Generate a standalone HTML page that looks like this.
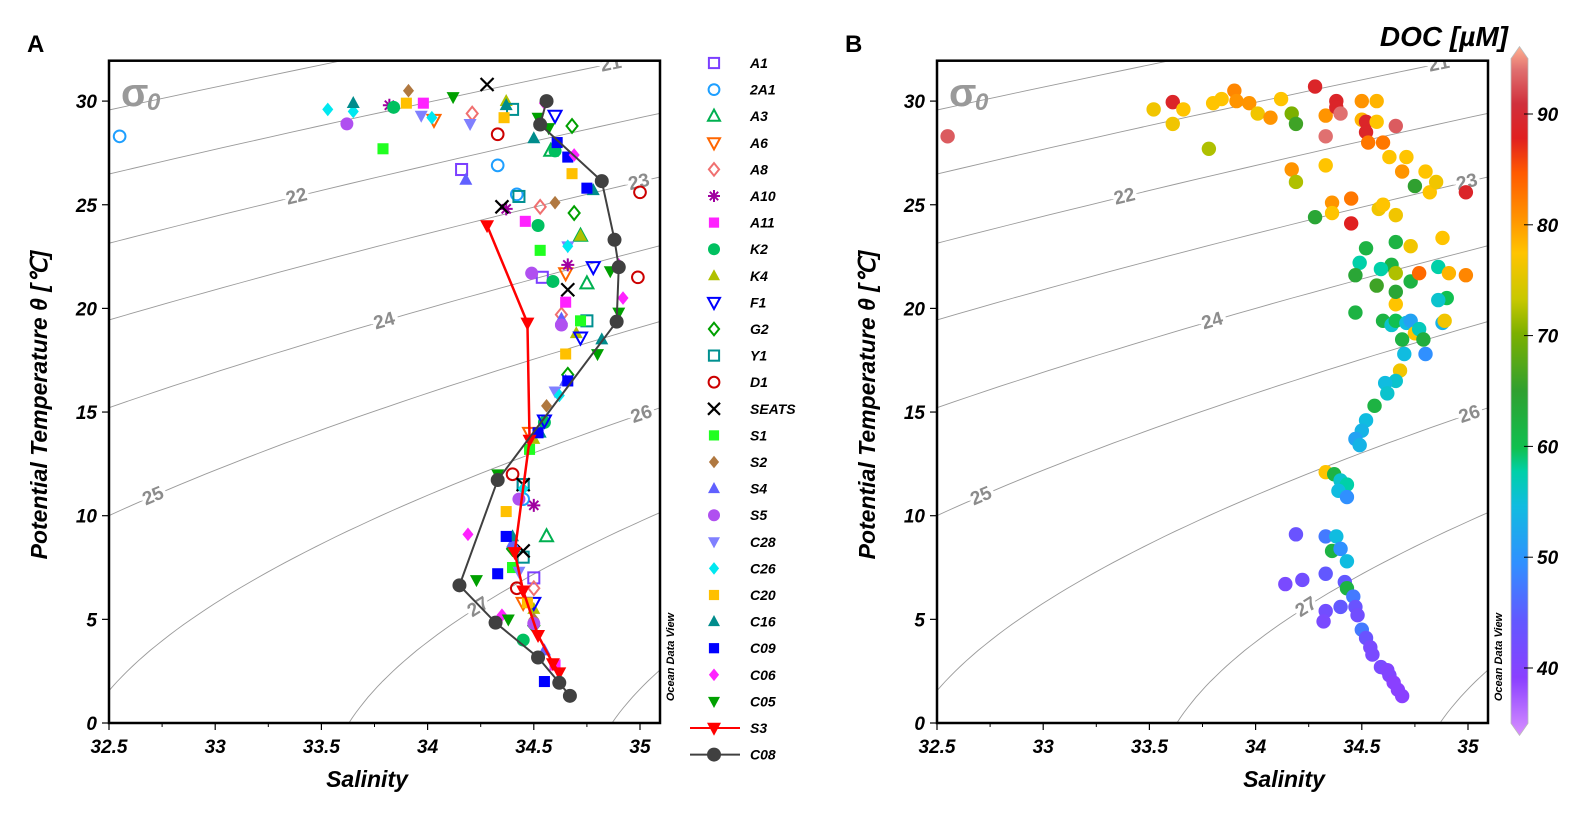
<!DOCTYPE html>
<html><head><meta charset="utf-8"><title>T-S diagrams</title>
<style>
html,body{margin:0;padding:0;background:#fff;}
svg{display:block;font-family:"Liberation Sans",Arial,sans-serif;}
</style></head>
<body>
<svg id="fig" width="1586" height="826" viewBox="0 0 1586 826" xmlns="http://www.w3.org/2000/svg"></svg>
<script>
// ---------------- DATA ----------------
const legendNames = ["A1","2A1","A3","A6","A8","A10","A11","K2","K4","F1","G2","Y1","D1","SEATS","S1","S2","S4","S5","C28","C26","C20","C16","C09","C06","C05","S3","C08"];
const legendShapes = ["sqO","circO","triO","itriO","diaO","ast","sq","circ","tri","itriO","diaO","sqO","circO","x","sq","dia","tri","circ","itri","dia","sq","tri","sq","dia","itri","itri","circ"];
const legendColors = ["#7b3fff","#1e9fff","#00b050","#ff6600","#f07070","#a000a0","#ff22ff","#00c060","#b0c000","#0000ff","#00a000","#009090","#cc0000","#000000","#20ff20","#b07840","#6060ff","#b050f0","#8080ff","#00e8f0","#ffc000","#008c8c","#0000ff","#ff22ff","#00a000","#ff0000","#404040"];

const data_A1 = [[34.16,26.7],[34.54,21.5],[34.45,11.5],[34.5,7.0]];
const data_2A1 = [[32.55,28.3],[34.33,26.9],[34.42,25.5],[34.45,10.8]];
const data_A3 = [[34.58,27.6],[34.75,21.2],[34.72,23.5],[34.56,9.0]];
const data_A6 = [[34.03,29.1],[34.65,21.7],[34.48,14.0],[34.45,5.8]];
const data_A8 = [[34.21,29.4],[34.53,24.9],[34.63,19.7],[34.5,6.5]];
const data_A10 = [[33.82,29.8],[34.37,24.8],[34.66,22.1],[34.5,10.5]];
const data_A11 = [[33.98,29.9],[34.46,24.2],[34.65,20.3],[34.4,7.5],[34.6,2.8]];
const data_K2 = [[33.84,29.7],[34.52,24.0],[34.59,21.3],[34.6,27.6],[34.55,14.5],[34.45,4.0]];
const data_K4 = [[34.37,30.0],[34.72,23.5],[34.7,18.8],[34.5,13.7],[34.5,5.5]];
const data_F1 = [[34.6,29.3],[34.78,22.0],[34.72,18.6],[34.55,14.6],[34.5,5.8]];
const data_G2 = [[34.68,28.8],[34.69,24.6],[34.66,16.8],[34.4,8.4],[34.5,4.7]];
const data_Y1 = [[34.4,29.6],[34.43,25.4],[34.75,19.4],[34.45,11.5],[34.45,8.0]];
const data_D1 = [[34.33,28.4],[35.0,25.6],[34.99,21.5],[34.4,12.0],[34.42,6.5]];
const data_SEATS = [[34.28,30.8],[34.35,24.9],[34.66,20.9],[34.45,11.5],[34.45,8.3]];
const data_S1 = [[33.79,27.7],[34.53,22.8],[34.72,19.4],[34.48,13.2],[34.4,7.5]];
const data_S2 = [[33.91,30.5],[34.6,25.1],[34.56,15.3],[34.5,5.0]];
const data_S4 = [[34.18,26.2],[34.63,19.5],[34.65,16.5],[34.4,8.7],[34.55,3.5]];
const data_S5 = [[33.62,28.9],[34.49,21.7],[34.63,19.2],[34.43,10.8],[34.5,4.8]];
const data_C28 = [[33.97,29.3],[34.2,28.9],[34.66,23.0],[34.6,16.0],[34.43,7.3]];
const data_C26 = [[33.53,29.6],[33.65,29.5],[34.02,29.2],[34.66,23.0],[34.62,15.8],[34.45,11.3]];
const data_C20 = [[33.9,29.9],[34.36,29.2],[34.68,26.5],[34.65,17.8],[34.37,10.2],[34.47,5.8]];
const data_C16 = [[33.65,29.9],[34.37,29.8],[34.5,28.2],[34.78,25.7],[34.82,18.5],[34.53,14.0],[34.4,9.0]];
const data_C09 = [[34.61,28.0],[34.66,27.3],[34.75,25.8],[34.66,16.5],[34.52,14.0],[34.37,9.0],[34.33,7.2],[34.55,2.0]];
const data_C06 = [[34.55,29.9],[34.69,27.4],[34.92,20.5],[34.9,22.1],[34.19,9.1],[34.35,5.2]];
const data_C05 = [[34.12,30.2],[34.52,29.2],[34.57,28.7],[34.86,21.8],[34.8,17.8],[34.9,19.8],[34.23,6.9],[34.38,5.0],[34.33,12.0]];
const data_S3 = [[34.28,24.0],[34.47,19.3],[34.48,13.65],[34.41,8.23],[34.45,6.38],[34.52,4.23],[34.59,2.87],[34.62,2.43]];
const data_C08 = [[34.56,30.0],[34.53,28.87],[34.82,26.14],[34.88,23.31],[34.9,21.99],[34.89,19.36],[34.33,11.72],[34.15,6.64],[34.32,4.84],[34.52,3.16],[34.62,1.94],[34.67,1.31]];
const seriesData = [data_A1,data_2A1,data_A3,data_A6,data_A8,data_A10,data_A11,data_K2,data_K4,data_F1,data_G2,data_Y1,data_D1,data_SEATS,data_S1,data_S2,data_S4,data_S5,data_C28,data_C26,data_C20,data_C16,data_C09,data_C06,data_C05,data_S3,data_C08];

// Panel B: salinity, temperature, DOC
const docS = [32.55,33.52,33.61,33.61,33.66,33.78,33.8,33.84,33.9,33.91,33.97,34.01,34.07,34.12,34.17,34.19,34.17,34.19,34.28,34.28,34.33,34.33,34.33,34.36,34.36,34.38,34.38,34.4,34.45,34.45,34.5,34.5,34.52,34.52,34.53,34.57,34.57,34.6,34.63,34.66,34.69,34.71,34.75,34.82,34.8,34.85,34.99,34.58,34.6,34.66,34.66,34.73,34.88,34.52,34.49,34.64,34.66,34.47,34.57,34.59,34.73,34.77,34.86,34.91,34.99,34.66,34.66,34.9,34.86,34.47,34.6,34.64,34.66,34.71,34.73,34.75,34.77,34.88,34.89,34.79,34.69,34.7,34.8,34.68,34.66,34.61,34.62,34.56,34.52,34.5,34.47,34.49,34.33,34.37,34.4,34.43,34.39,34.43,34.33,34.19,34.38,34.36,34.4,34.43,34.33,34.22,34.14,34.42,34.43,34.46,34.4,34.47,34.33,34.32,34.48,34.5,34.52,34.54,34.55,34.59,34.62,34.63,34.65,34.67,34.69];
const docT = [28.3,29.6,29.95,28.9,29.6,27.7,29.9,30.1,30.5,30.0,29.9,29.4,29.2,30.1,29.4,28.9,26.7,26.1,24.4,30.7,29.3,28.3,26.9,25.1,24.6,30.0,29.7,29.4,25.3,24.1,30.0,29.1,29.0,28.5,28.0,30.0,29.0,28.0,27.3,28.8,26.6,27.3,25.9,25.6,26.6,26.1,25.6,24.8,25.0,24.5,23.2,23.0,23.4,22.9,22.2,22.1,21.7,21.6,21.1,21.9,21.3,21.7,22.0,21.7,21.6,20.2,20.8,20.5,20.4,19.8,19.4,19.2,19.4,19.3,19.4,18.8,19.0,19.3,19.4,18.5,18.5,17.8,17.8,17.0,16.5,16.4,15.9,15.3,14.6,14.1,13.7,13.4,12.1,12.0,11.7,11.5,11.2,10.9,9.0,9.1,9.0,8.3,8.4,7.8,7.2,6.9,6.7,6.8,6.5,6.1,5.6,5.6,5.4,4.9,5.2,4.5,4.1,3.65,3.3,2.7,2.55,2.3,1.95,1.6,1.3];
const docVal = [92,76,88,76,77,72,77,77,81,80,80,76,80,77,70,66,80,72,64,88,80,93,77,80,77,88,88,93,82,87,80,78,88,88,82,78,77,82,77,92,80,77,65,77,77,76,88,76,77,76,62,76,77,62,58,62,72,64,66,58,62,83,58,78,81,77,64,60,56,62,62,56,60,55,52,77,57,54,76,63,62,55,50,76,56,55,56,62,55,54,52,54,77,62,56,58,55,50,48,44,55,62,50,55,45,43,42,45,62,48,45,44,43,42,43,48,44,42,42,42,41,41,40,40,40];

const xTicks = [32.5,33,33.5,34,34.5,35];
const xTickLabels = ["32.5","33","33.5","34","34.5","35"];
const yTicks = [0,5,10,15,20,25,30];
const sigmaLevels = [20,21,22,23,24,25,26,27,28];
const sigmaLabelLevels = [21,22,23,24,25,26,27];
const sigmaLabelT = [31.8,25.4,26.1,19.4,10.95,14.9,5.6];
const cbTicks = [40,50,60,70,80,90];

// ---------------- HELPERS ----------------
const NS="http://www.w3.org/2000/svg";
const svg=document.getElementById('fig');
function el(tag,attrs,parent){const e=document.createElementNS(NS,tag);for(const k in attrs)e.setAttribute(k,attrs[k]);(parent||svg).appendChild(e);return e;}
function txt(s,attrs,parent){const e=el('text',attrs,parent);e.textContent=s;return e;}

function rho(S,T){
  const rw=999.842594+6.793952e-2*T-9.095290e-3*T*T+1.001685e-4*T**3-1.120083e-6*T**4+6.536332e-9*T**5;
  return rw+S*(0.824493-4.0899e-3*T+7.6438e-5*T*T-8.2467e-7*T**3+5.3875e-9*T**4)+S**1.5*(-5.72466e-3+1.0227e-4*T-1.6546e-6*T*T)+4.8314e-4*S*S;
}
function salAt(sig,T){let lo=25,hi=40;for(let i=0;i<50;i++){const m=(lo+hi)/2;if(rho(m,T)-1000<sig)lo=m;else hi=m;}return (lo+hi)/2;}

const cmapV=[35,40,45,50,55,58,60,65,70,73,77,80,84,87,90,93,95];
const cmapC=["#d890ff","#8a40ff","#6258ff","#3090ff","#10bce0","#00d0a8","#10c050","#30a030","#7cb000","#c8c800","#ffc400","#ff9400","#ff5a00","#e02020","#d0303c","#e07070","#ffb090"];
function hex2(c){return [1,3,5].map(i=>parseInt(c.substr(i,2),16));}
function cmap(v){
  if(v<=cmapV[0])return cmapC[0];if(v>=cmapV[cmapV.length-1])return cmapC[cmapC.length-1];
  for(let i=0;i<cmapV.length-1;i++){if(v<=cmapV[i+1]){const f=(v-cmapV[i])/(cmapV[i+1]-cmapV[i]);const a=hex2(cmapC[i]),b=hex2(cmapC[i+1]);return 'rgb('+a.map((x,j)=>Math.round(x+(b[j]-x)*f)).join(',')+')';}}
}

function marker(parent,shape,cx,cy,color,s){
  const h=s/2;const open=shape.endsWith('O');const base=open?shape.slice(0,-1):shape;
  const fill=open?'none':color, st=open?color:'none', sw=open?2:0;
  let e;
  if(base==='sq') e=el('rect',{x:cx-h*0.85,y:cy-h*0.85,width:s*0.85,height:s*0.85,fill:fill,stroke:st,'stroke-width':sw},parent);
  else if(base==='circ') e=el('circle',{cx:cx,cy:cy,r:h*(open?0.9:1),fill:fill,stroke:st,'stroke-width':sw},parent);
  else if(base==='tri') e=el('polygon',{points:`${cx},${cy-h*1.1} ${cx+h},${cy+h*0.75} ${cx-h},${cy+h*0.75}`,fill:fill,stroke:st,'stroke-width':sw},parent);
  else if(base==='itri') e=el('polygon',{points:`${cx},${cy+h*1.1} ${cx+h},${cy-h*0.75} ${cx-h},${cy-h*0.75}`,fill:fill,stroke:st,'stroke-width':sw},parent);
  else if(base==='dia') e=el('polygon',{points:`${cx},${cy-h*1.05} ${cx+h*0.85},${cy} ${cx},${cy+h*1.05} ${cx-h*0.85},${cy}`,fill:fill,stroke:st,'stroke-width':sw},parent);
  else if(base==='ast'){e=el('path',{d:`M${cx-h},${cy}H${cx+h}M${cx},${cy-h}V${cy+h}M${cx-h*0.7},${cy-h*0.7}L${cx+h*0.7},${cy+h*0.7}M${cx-h*0.7},${cy+h*0.7}L${cx+h*0.7},${cy-h*0.7}`,stroke:color,'stroke-width':2,fill:'none'},parent);}
  else if(base==='x'){e=el('path',{d:`M${cx-h},${cy-h}L${cx+h},${cy+h}M${cx-h},${cy+h}L${cx+h},${cy-h}`,stroke:color,'stroke-width':2.2,fill:'none'},parent);}
  return e;
}

// ---------------- PANEL ----------------
const TOP=60.7,BOT=723,PXT=20.73,PXS=212.4;
function makePanel(id,X0,X1,titleX){
  const g=el('g',{});
  
  
  const sx=S=>X0+(S-32.5)*PXS, ty=T=>BOT-T*PXT;
  const clip=el('clipPath',{id:'clip-'+id},g);el('rect',{x:X0,y:TOP,width:X1-X0,height:BOT-TOP},clip);
  const cg=el('g',{'clip-path':`url(#clip-${id})`},g);
  
  
  sigmaLevels.forEach(sig=>{
    let d='';for(let T=-1;T<=33;T+=0.25){const S=salAt(sig,T);d+=(d?'L':'M')+sx(S).toFixed(1)+','+ty(T).toFixed(1);}
    const p=el('path',{d:d,fill:'none',stroke:'#9a9a9a','stroke-width':0.9},cg);
    
    
  });
  sigmaLabelLevels.forEach((sig,i)=>{
    const T=sigmaLabelT[i],S=salAt(sig,T);const S2=salAt(sig,T+0.3);
    const ang=Math.atan2(ty(T+0.3)-ty(T),sx(S2)-sx(S))*180/Math.PI;
    let a=ang;if(a<-90)a+=180;if(a>90)a-=180;
    const t=txt(String(sig),{x:0,y:6,'text-anchor':'middle','font-size':19,'font-weight':'bold',fill:'#8c8c8c',stroke:'#fff','stroke-width':7,'paint-order':'stroke',transform:`translate(${sx(S)},${ty(T)}) rotate(${a})`},cg);
    
    
  });
  const sg=txt('σ',{x:X0+12,y:106,'font-size':40,'font-weight':'bold',fill:'#999'},g);
  
  
  const s0=txt('0',{x:X0+38,y:110,'font-size':24,'font-weight':'bold','font-style':'italic',fill:'#999'},g);
  
  
  xTicks.forEach((v,i)=>{
    el('line',{x1:sx(v),x2:sx(v),y1:BOT,y2:BOT+7,stroke:'#000','stroke-width':1.2},g);
    const t=txt(xTickLabels[i],{x:sx(v),y:BOT+30,'text-anchor':'middle','font-size':19,'font-weight':'bold','font-style':'italic'},g);
    
    
  });
  for(let v=32.75;v<35.1;v+=0.5){el('line',{x1:sx(v),x2:sx(v),y1:BOT,y2:BOT+4,stroke:'#000','stroke-width':1},g);}
  yTicks.forEach(v=>{
    el('line',{x1:X0-7,x2:X0,y1:ty(v),y2:ty(v),stroke:'#000','stroke-width':1.2},g);
    const t=txt(String(v),{x:X0-12,y:ty(v)+7,'text-anchor':'end','font-size':19,'font-weight':'bold','font-style':'italic'},g);
    
    
  });
  const fr=el('rect',{x:X0,y:TOP,width:X1-X0,height:BOT-TOP,fill:'none',stroke:'#000','stroke-width':2.5},g);
  
  
  const xt=txt('Salinity',{x:titleX,y:787,'text-anchor':'middle','font-size':23,'font-weight':'bold','font-style':'italic'},g);
  
  
  const yt=txt('Potential Temperature θ [℃]',{x:0,y:0,'text-anchor':'middle','font-size':23,'font-weight':'bold','font-style':'italic',transform:`translate(${X0-62},405) rotate(-90)`},g);
  
  
  const od=txt('Ocean Data View',{x:0,y:0,'text-anchor':'middle','font-size':11,'font-weight':'bold','font-style':'italic',transform:`translate(${X1+14},657) rotate(-90)`},g);
  
  
  return {g,sx,ty,clipId:'clip-'+id};
}

// Panel A
const PA=makePanel('a',109,660,367);
const la=txt('A',{x:27,y:52,'font-size':24,'font-weight':'bold'});


const da=el('g',{},PA.g);


seriesData.forEach((arr,i)=>{
  const sg=el('g',{},da);
  
  
  if(legendNames[i]==='S3'||legendNames[i]==='C08'){
    const pl=el('polyline',{points:arr.map(p=>PA.sx(p[0])+','+PA.ty(p[1])).join(' '),fill:'none',stroke:legendColors[i],'stroke-width':legendNames[i]==='S3'?2.5:2},sg);
    
    
  }
  arr.forEach(p=>{
    const m=marker(sg,legendShapes[i],PA.sx(p[0]),PA.ty(p[1]),legendColors[i],legendNames[i]==='S3'||legendNames[i]==='C08'?14:13);
    
    
  });
});
// Legend
const lg=el('g',{});


legendNames.forEach((n,i)=>{
  const y=63+i*26.6;
  const e=el('g',{},lg);
  
  
  if(n==='S3'||n==='C08'){el('line',{x1:690,x2:740,y1:y,y2:y,stroke:legendColors[i],'stroke-width':2},e);}
  marker(e,legendShapes[i],714,y,legendColors[i],n==='S3'||n==='C08'?14:12);
  txt(n,{x:750,y:y+5,'font-size':14,'font-weight':'bold','font-style':'italic'},e);
});

// Panel B
const PB=makePanel('b',937,1488,1284);
const lb=txt('B',{x:845,y:52,'font-size':24,'font-weight':'bold'});


const db=el('g',{},PB.g);


docS.forEach((s,i)=>{
  const c=el('circle',{cx:PB.sx(s),cy:PB.ty(docT[i]),r:7.2,fill:cmap(docVal[i])},db);
  
  
});

// Colorbar
const cb=el('g',{});


const CBX=1511,CBW=17,cby=v=>114+(90-v)*11.08;
const defs=el('defs',{});const lgr=el('linearGradient',{id:'cbg',x1:0,y1:1,x2:0,y2:0},defs);
cmapV.forEach((v,i)=>el('stop',{offset:((v-35)/60).toFixed(4),'stop-color':cmapC[i]},lgr));
el('polygon',{points:`${CBX},${cby(95)} ${CBX+CBW/2},${cby(95)-12} ${CBX+CBW},${cby(95)} ${CBX+CBW},${cby(35)} ${CBX+CBW/2},${cby(35)+12} ${CBX},${cby(35)}`,fill:'url(#cbg)',stroke:'#bbb','stroke-width':0.8},cb);
cbTicks.forEach(v=>{
  el('line',{x1:CBX+CBW-4,x2:CBX+CBW+5,y1:cby(v),y2:cby(v),stroke:'#000','stroke-width':1},cb);
  const t=txt(String(v),{x:CBX+CBW+9,y:cby(v)+7,'font-size':19,'font-weight':'bold','font-style':'italic'},cb);
  
  
});
const ct=txt('DOC [µM]',{x:1508,y:46,'text-anchor':'end','font-size':28,'font-weight':'bold','font-style':'italic'});


</script>
</body></html>
